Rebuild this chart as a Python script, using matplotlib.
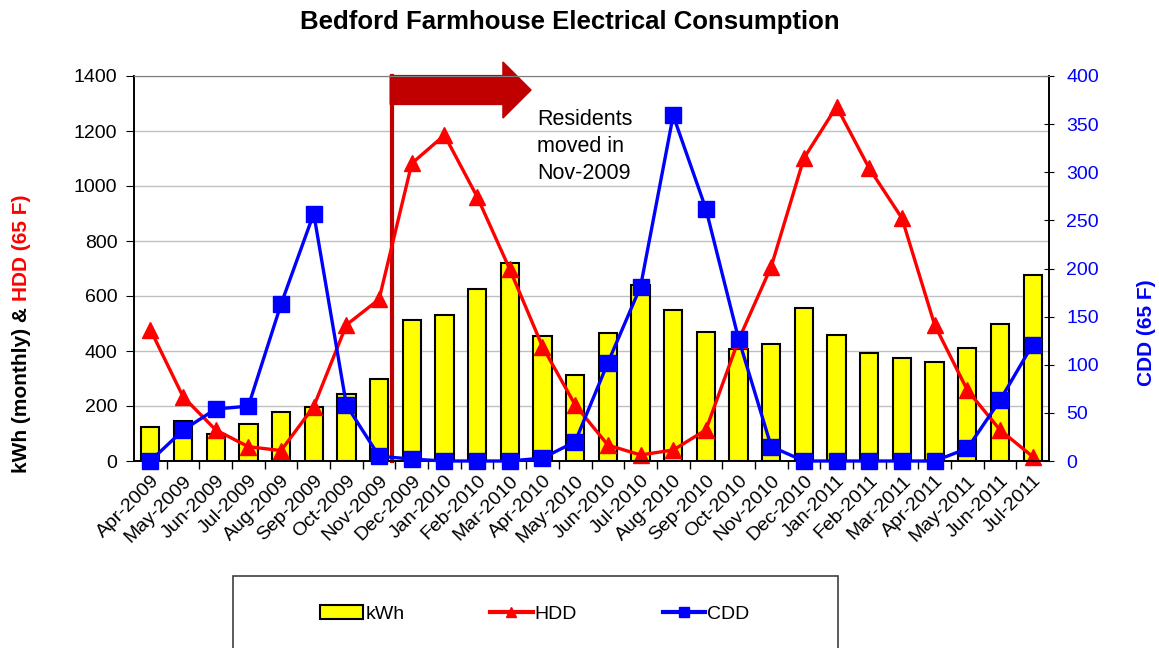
import matplotlib
matplotlib.use("Agg")
import matplotlib.pyplot as plt
from matplotlib.patches import FancyArrow, Rectangle, Patch
from matplotlib.lines import Line2D
import numpy as np

plt.rcParams['font.family'] = ['Liberation Sans', 'DejaVu Sans']

# monthly data, Apr-2009 .. Jul-2011
months = ['Apr-2009', 'May-2009', 'Jun-2009', 'Jul-2009', 'Aug-2009', 'Sep-2009',
          'Oct-2009', 'Nov-2009', 'Dec-2009', 'Jan-2010', 'Feb-2010', 'Mar-2010',
          'Apr-2010', 'May-2010', 'Jun-2010', 'Jul-2010', 'Aug-2010', 'Sep-2010',
          'Oct-2010', 'Nov-2010', 'Dec-2010', 'Jan-2011', 'Feb-2011', 'Mar-2011',
          'Apr-2011', 'May-2011', 'Jun-2011', 'Jul-2011']
kwh = [124, 145, 98, 133, 177, 195, 245, 297, 514, 532, 627, 719,
       453, 314, 464, 639, 548, 468, 408, 427, 555, 457, 393, 373,
       361, 412, 499, 675]
hdd = [478, 234, 113, 52, 38, 198, 495, 588, 1082, 1185, 961, 697,
       416, 204, 58, 22, 40, 113, 440, 707, 1101, 1289, 1064, 883,
       495, 258, 113, 16]
cdd = [0, 32, 54, 57, 163, 257, 58, 5, 2, 0, 0, 0,
       3, 20, 102, 181, 359, 262, 127, 15, 0, 0, 0, 0,
       0, 13, 63, 121]

x = np.arange(len(months))

fig = plt.figure(figsize=(11.59, 6.48), dpi=100)
ax = fig.add_axes([134/1159, 1-461/648, (1049-134)/1159, (461-76)/648])
ax2 = ax.twinx()

# bars + HDD on the left axis
ax.bar(x, kwh, width=0.56, color='#FFFF00', edgecolor='black', linewidth=1.5, zorder=2)
ax.plot(x, hdd, color='#FF0000', lw=2.4, marker='^', ms=12, zorder=4, clip_on=False)

# residents moved in marker
ax.plot([7.40, 7.40], [0, 1400], color='#C00000', lw=3, zorder=3, clip_on=False)
arrow = FancyArrow(7.34, 1349, 11.65 - 7.34, 0, width=105, head_width=204,
                   head_length=0.86, length_includes_head=True,
                   color='#C00000', zorder=5, clip_on=False)
ax.add_patch(arrow)
ax.text(11.83, 1280, 'Residents\nmoved in\nNov-2009', fontsize=15.5, va='top',
        ha='left', linespacing=1.38, zorder=6)

# CDD on the right axis
ax2.plot(x, cdd, color='#0000FF', lw=2.4, marker='s', ms=12, zorder=4, clip_on=False)

ax.set_xlim(-0.5, len(months) - 0.5)
ax.set_ylim(0, 1400)
ax2.set_ylim(0, 400)
ax.set_yticks(range(0, 1401, 200))
ax2.set_yticks(range(0, 401, 50))

ax.set_xticks(x)
ax.set_xticklabels(months, rotation=45, ha='right', va='top', rotation_mode='anchor', fontsize=14)
ax.set_xticks(x[:-1] + 0.5, minor=True)
ax.tick_params(axis='x', which='major', length=0, pad=8)
ax.tick_params(axis='x', which='minor', length=6, width=1, direction='out')
ax.tick_params(axis='y', labelsize=14, length=6, pad=6, direction='out')
ax2.tick_params(axis='y', labelsize=14, labelcolor='#0000FF', length=7, pad=9,
                direction='inout')

ax.grid(axis='y', color='#c0c0c0', lw=1, zorder=0)
ax.set_axisbelow(True)
for a in (ax, ax2):
    a.spines['top'].set_color('#808080')
    a.spines['left'].set_linewidth(1.2)
    a.spines['right'].set_linewidth(1.2)
    a.spines['bottom'].set_linewidth(1.2)

# axis labels
fig.text(22/1159, 1-307/648, 'kWh (monthly) &', rotation=90, fontsize=15,
         fontweight='bold', ha='center', va='top')
fig.text(22/1159, 1-301/648, 'HDD (65 F)', rotation=90, fontsize=15,
         fontweight='bold', color='#FF0000', ha='center', va='bottom')
fig.text(1147/1159, 1-333/648, 'CDD (65 F)', rotation=90, fontsize=15,
         fontweight='bold', color='#0000FF', ha='center', va='center')

fig.text(570/1159, 1-22/648, 'Bedford Farmhouse Electrical Consumption',
         fontsize=18.5, fontweight='bold', ha='center', va='center')

# legend with its box running off the bottom
fig.patches.append(Rectangle((233/1159, -0.02), (838-233)/1159, (648-576)/648 + 0.02,
                             transform=fig.transFigure, facecolor='white',
                             edgecolor='#404040', lw=1.2))
handles = [Patch(facecolor='#FFFF00', edgecolor='black', lw=1.5),
           Line2D([], [], color='#FF0000', lw=3, marker='^', ms=7),
           Line2D([], [], color='#0000FF', lw=3, marker='s', ms=7)]
fig.legend(handles, ['kWh', 'HDD', 'CDD'], loc='center', ncol=3, frameon=False,
           bbox_to_anchor=(535/1159, 1-614/648), fontsize=14, handlelength=2.2,
           handletextpad=0.1, columnspacing=4.4)

fig.savefig('out.png', dpi=100)
